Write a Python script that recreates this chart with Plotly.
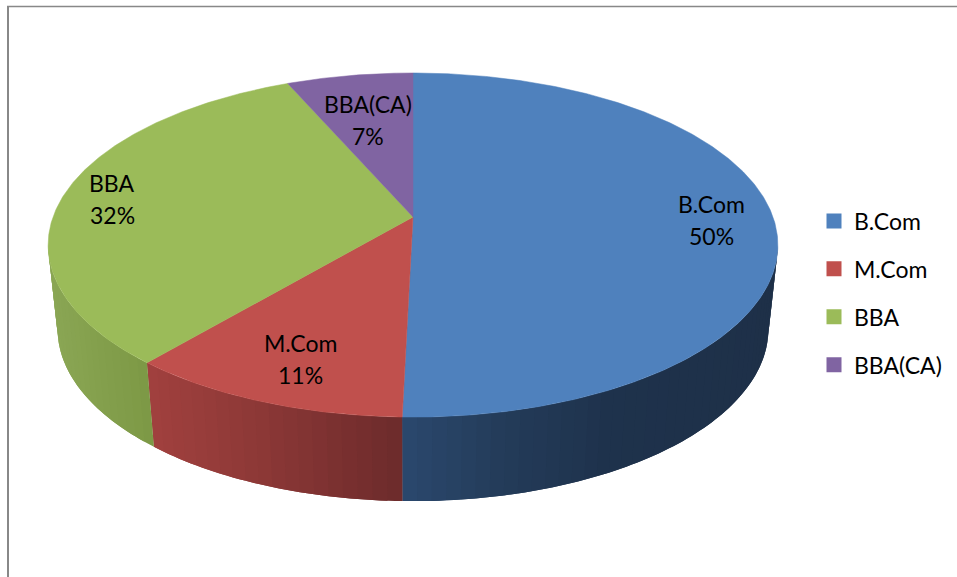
import math
import plotly.graph_objects as go

# ---- data ----
categories = ["B.Com", "M.Com", "BBA", "BBA(CA)"]
shares = [50.4, 10.8, 32.25, 6.55]

# ---- styles ----
top_colors = ["#4f81bd", "#c0504d", "#9bbb59", "#8064a2"]
# wall colour stops per slice: (x pixel, rgb)
wall_stops = [
    [(402, (42, 72, 110)), (500, (36, 60, 90)), (610, (30, 50, 76)), (778, (30, 48, 72))],
    [(153, (160, 64, 62)), (260, (140, 56, 54)), (340, (122, 48, 48)), (402, (108, 44, 44))],
    [(50, (138, 166, 84)), (153, (124, 152, 68))],
    [(0, (90, 70, 115)), (957, (90, 70, 115))],
]
FONT = "Lato"
LABEL_SIZE = 23
LEGEND_SIZE = 23
# text offset (px) from each slice's anchor point
label_offsets = [(17, 1), (1, 3), (-28, 0.5), (6, 17)]
LABEL_R = 0.78

# ---- projection of the pie disc ----
CX, CY = 413.0, 217.0
A, B, K = 360.0, 167.5, 0.163
DEPTH, SHRINK = 84.0, 0.974


def project(r, theta):
    u, v = r * math.sin(theta), r * math.cos(theta)
    w = 1 + K * v
    return CX + A * u / w, CY - B * v / w


def lower(px, py):
    return CX + (px - CX) * SHRINK, py + DEPTH


def shade(stops, x):
    if x <= stops[0][0]:
        c = stops[0][1]
    elif x >= stops[-1][0]:
        c = stops[-1][1]
    else:
        c = stops[-1][1]
        for (x0, c0), (x1, c1) in zip(stops, stops[1:]):
            if x0 <= x <= x1:
                t = (x - x0) / (x1 - x0)
                c = tuple(c0[i] + (c1[i] - c0[i]) * t for i in range(3))
                break
    return "rgb(%d,%d,%d)" % tuple(round(v) for v in c)


total = sum(shares)
edges = [0.0]
for s in shares:
    edges.append(edges[-1] + s / total * 2 * math.pi)

fig = go.Figure()

# side wall: overlapping thin strips, front part only
front_lo = math.acos(-K)
front_hi = 2 * math.pi - front_lo
for i, cat in enumerate(categories):
    a0, a1 = max(edges[i], front_lo), min(edges[i + 1], front_hi)
    if a1 <= a0:
        continue
    n = max(1, int((a1 - a0) / math.radians(2.0)))
    for j in range(n):
        t0 = a0 + (a1 - a0) * j / n
        t1 = min(a1, a0 + (a1 - a0) * (j + 2) / n)
        tm = a0 + (a1 - a0) * (j + 0.5) / n
        steps = [t0 + (t1 - t0) * s / 4 for s in range(5)]
        upper = [project(1, t) for t in steps]
        low = [lower(*p) for p in upper]
        col = shade(wall_stops[i], project(1, tm)[0])
        poly = upper + low[::-1] + upper[:1]
        fig.add_trace(go.Scatter(
            x=[p[0] for p in poly], y=[p[1] for p in poly],
            mode="none", fill="toself", fillcolor=col,
            hoverinfo="skip", showlegend=False))

# top face
for i, cat in enumerate(categories):
    n = max(2, int((edges[i + 1] - edges[i]) / math.radians(0.5)))
    pts = [project(1, edges[i] + (edges[i + 1] - edges[i]) * j / n) for j in range(n + 1)]
    xs = [CX] + [p[0] for p in pts] + [CX]
    ys = [CY] + [p[1] for p in pts] + [CY]
    fig.add_trace(go.Scatter(
        x=xs, y=ys, mode="lines", fill="toself", fillcolor=top_colors[i],
        line=dict(color=top_colors[i], width=0.5),
        name=cat, legendgroup=cat, showlegend=False,
        hoverinfo="text", text="%s %d%%" % (cat, round(shares[i]))))

# legend entries
for i, cat in enumerate(categories):
    fig.add_trace(go.Scatter(
        x=[None], y=[None], mode="markers", name=cat, legendgroup=cat,
        marker=dict(symbol="square", size=15, color=top_colors[i])))

# labels
annotations = []
for i, cat in enumerate(categories):
    mid = (edges[i] + edges[i + 1]) / 2
    ax, ay = project(LABEL_R, mid)
    dx, dy = label_offsets[i]
    for txt, extra in ((cat, -16), ("%d%%" % round(shares[i]), 16)):
        annotations.append(dict(
            x=ax, y=ay, xref="x", yref="y", text=txt, showarrow=False,
            xanchor="center", yanchor="middle", xshift=dx, yshift=-(dy + extra),
            font=dict(family=FONT, size=LABEL_SIZE, color="#000000")))

frame = dict(color="#888888", width=2)
fig.update_layout(
    width=957, height=577, autosize=False,
    margin=dict(l=0, r=0, t=0, b=0, pad=0),
    paper_bgcolor="white", plot_bgcolor="white",
    xaxis=dict(range=[0, 957], visible=False, fixedrange=True),
    yaxis=dict(range=[577, 0], visible=False, fixedrange=True),
    font=dict(family=FONT, color="#000000"),
    annotations=annotations,
    shapes=[
        dict(type="line", xref="x", yref="y", x0=8, x1=8, y0=6, y1=577, line=frame),
        dict(type="line", xref="x", yref="y", x0=7, x1=957, y0=6.5, y1=6.5, line=dict(color="#888888", width=1.5)),
    ],
    legend=dict(
        x=814 / 957, xanchor="left", y=1 - 199.5 / 577, yanchor="top",
        bgcolor="rgba(0,0,0,0)", tracegroupgap=15,
        font=dict(family=FONT, size=LEGEND_SIZE, color="#000000"),
        itemclick=False, itemdoubleclick=False),
)

fig.write_html(
    "out.html",
    config=dict(displayModeBar=False),
    post_script="document.body.style.margin='0';document.documentElement.style.overflow='hidden';",
)
